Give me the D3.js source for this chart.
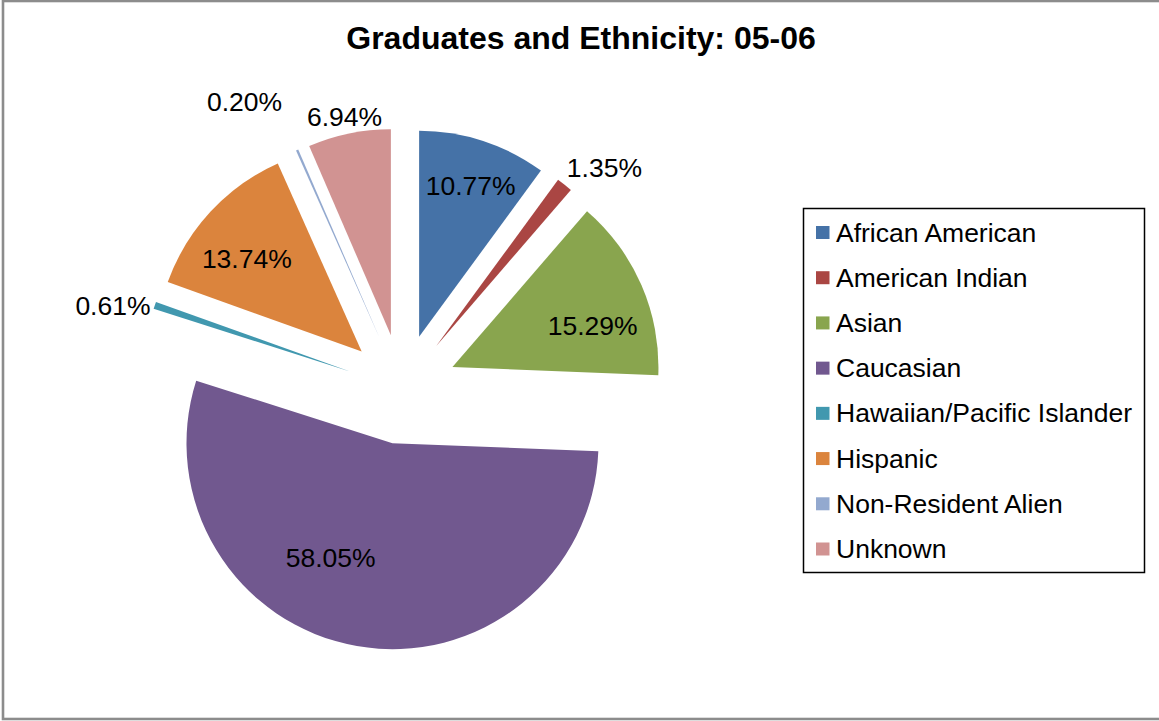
<!DOCTYPE html>
<html>
<head>
<meta charset="utf-8">
<script src="https://cdn.jsdelivr.net/npm/d3@7"></script>
<style>
  html, body { margin: 0; padding: 0; background: #fff; }
  svg { display: block; font-family: "Liberation Sans", Arial, sans-serif; }
</style>
</head>
<body>
<svg id="chart" width="1159" height="721"></svg>
<script>
// Graduates by ethnicity, 2005-06
const categories = [
  "African American", "American Indian", "Asian", "Caucasian",
  "Hawaiian/Pacific Islander", "Hispanic", "Non-Resident Alien", "Unknown"
];
const values = [10.77, 1.35, 15.29, 58.05, 0.61, 13.74, 0.20, 6.94];
const valueLabels = ["10.77%", "1.35%", "15.29%", "58.05%", "0.61%", "13.74%", "0.20%", "6.94%"];
const colors = ["#4572A7", "#AA4643", "#89A54E", "#71588F", "#4198AF", "#DB843D", "#93A9CF", "#D19392"];
const titleText = "Graduates and Ethnicity: 05-06";

// Layout
const W = 1159, H = 721;
const cx = 402, cy = 389;        // pie centre
const radius = 206;
const explode = 55;              // every slice pulled out along its bisector
// label placement: angular nudge (deg) from the slice bisector, distance from centre
const labelShift = [0.5, 3.9, 5.0, 13.0, -2.5, -2.7, -5.0, -0.2];
const labelDist  = [215, 300, 201, 183, 301, 203, 328, 279];

const svg = d3.select("#chart");

// chart frame
svg.append("rect")
  .attr("x", 3).attr("y", 1)
  .attr("width", W + 20).attr("height", H - 3)
  .attr("fill", "#fff")
  .attr("stroke", "#8c8c8c")
  .attr("stroke-width", 2.6);

// title
svg.append("text")
  .attr("x", 581).attr("y", 49)
  .attr("text-anchor", "middle")
  .attr("font-size", 32)
  .attr("font-weight", "bold")
  .attr("fill", "#000")
  .text(titleText);

const data = categories.map((c, i) => ({ name: c, value: values[i], label: valueLabels[i], color: colors[i], idx: i }));

const pie = d3.pie().value(d => d.value).sort(null);
const arc = d3.arc().innerRadius(0).outerRadius(radius);
const arcs = pie(data);

const g = svg.append("g").attr("transform", `translate(${cx},${cy})`);

g.selectAll("path.slice")
  .data(arcs)
  .join("path")
  .attr("class", "slice")
  .attr("fill", d => d.data.color)
  .attr("transform", d => {
    const mid = (d.startAngle + d.endAngle) / 2;
    return `translate(${explode * Math.sin(mid)},${-explode * Math.cos(mid)})`;
  })
  .attr("d", arc);

g.selectAll("text.pct")
  .data(arcs)
  .join("text")
  .attr("class", "pct")
  .attr("text-anchor", "middle")
  .attr("font-size", 26.5)
  .attr("fill", "#000")
  .attr("dy", "0.36em")
  .attr("x", d => {
    const a = (d.startAngle + d.endAngle) / 2 + labelShift[d.data.idx] * Math.PI / 180;
    return labelDist[d.data.idx] * Math.sin(a);
  })
  .attr("y", d => {
    const a = (d.startAngle + d.endAngle) / 2 + labelShift[d.data.idx] * Math.PI / 180;
    return -labelDist[d.data.idx] * Math.cos(a);
  })
  .text(d => d.data.label);

// legend
const legX = 803.5, legY = 208.5, legW = 341, legH = 364;
const rowY = d3.scalePoint().domain(categories).range([232.5, 549]);
const legend = svg.append("g");
legend.append("rect")
  .attr("x", legX).attr("y", legY)
  .attr("width", legW).attr("height", legH)
  .attr("fill", "#fff")
  .attr("stroke", "#000")
  .attr("stroke-width", 1.5);

const rows = legend.selectAll("g.row")
  .data(data)
  .join("g")
  .attr("class", "row")
  .attr("transform", d => `translate(0,${rowY(d.name)})`);

rows.append("rect")
  .attr("x", 816).attr("y", -6.5)
  .attr("width", 13.5).attr("height", 13)
  .attr("fill", d => d.color);

rows.append("text")
  .attr("x", 836).attr("y", 9)
  .attr("font-size", 26.5)
  .attr("fill", "#000")
  .text(d => d.name);
</script>
</body>
</html>
